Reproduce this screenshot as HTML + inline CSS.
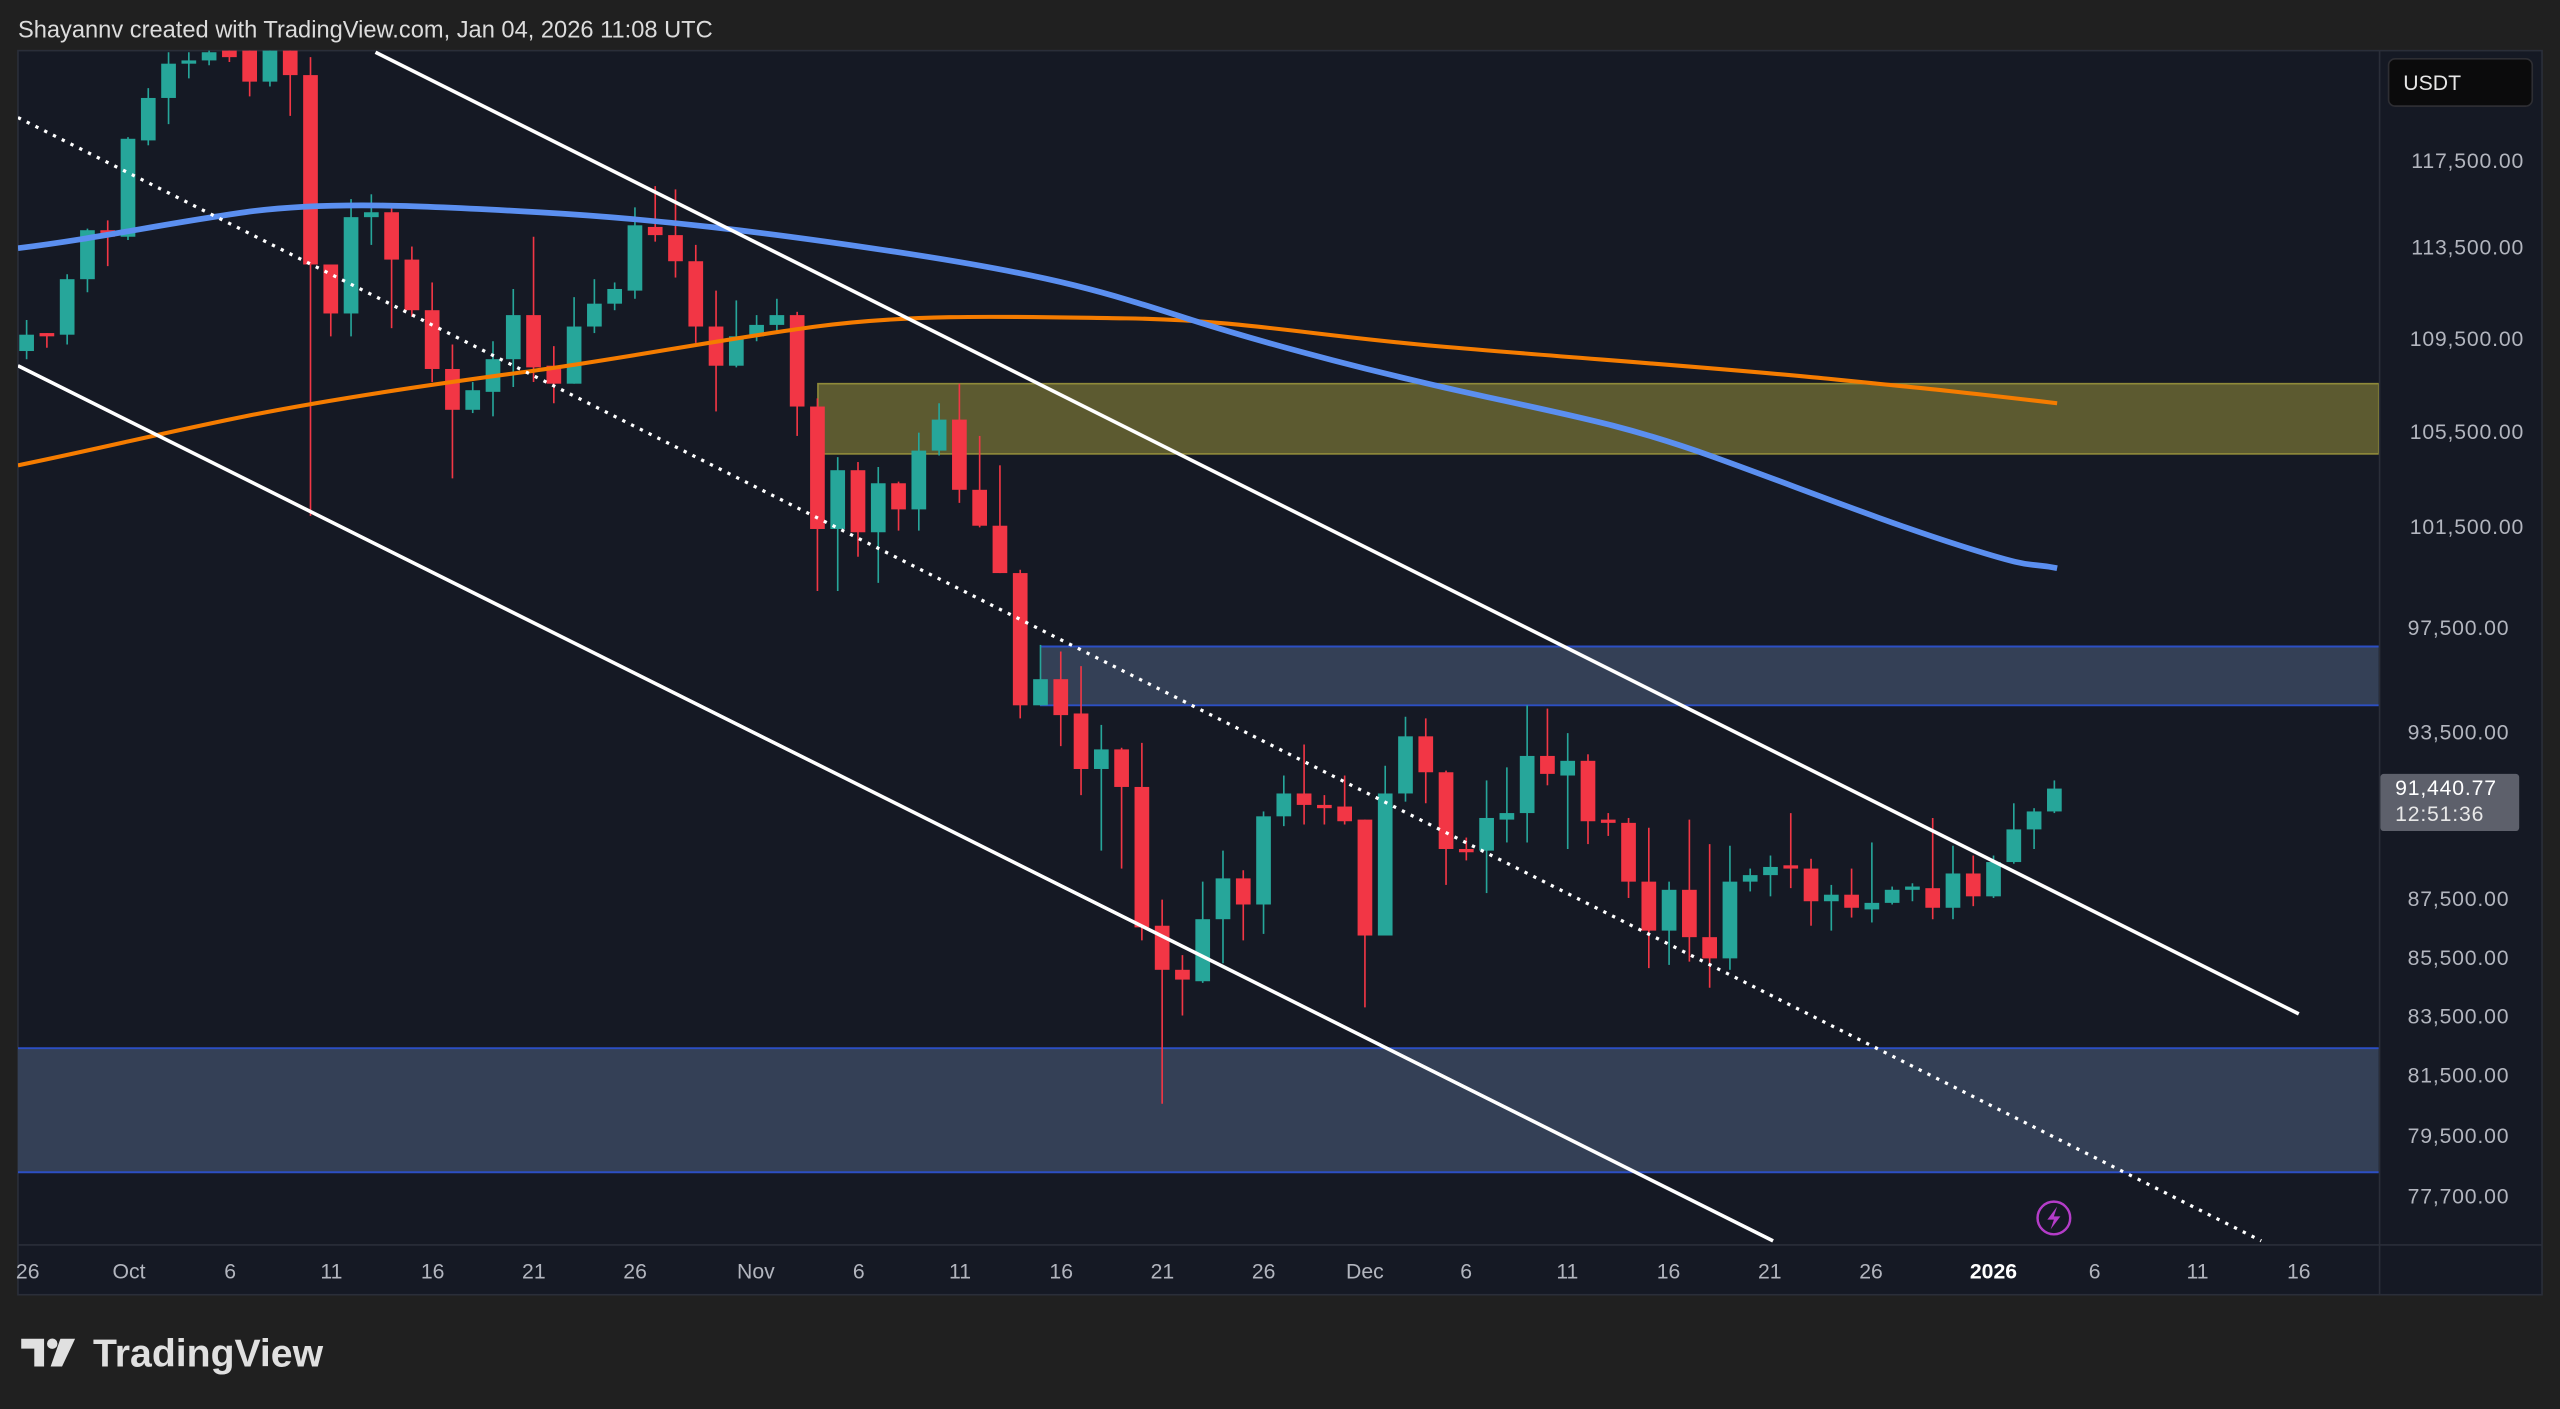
<!DOCTYPE html>
<html><head><meta charset="utf-8">
<style>
html,body{margin:0;padding:0;background:#202020;width:2560px;height:1409px;overflow:hidden}
svg{display:block}
text{font-family:"Liberation Sans",sans-serif}
</style></head>
<body>
<svg id="s" width="2560" height="1409" viewBox="0 0 1568 863" preserveAspectRatio="none" xmlns="http://www.w3.org/2000/svg">
<rect x="0" y="0" width="1568" height="863" fill="#202020"/>
<text x="11" y="23" font-size="14.5" fill="#dcdcdc">Shayannv created with TradingView.com, Jan 04, 2026 11:08 UTC</text>
<rect x="11" y="31" width="1546" height="762" fill="#151924" stroke="#2a2e39" stroke-width="1"/>
<line x1="1457.5" y1="31" x2="1457.5" y2="793" stroke="#2a2e39"/>
<line x1="11" y1="762.5" x2="1557" y2="762.5" stroke="#2a2e39"/>
<defs><clipPath id="c"><rect x="11" y="31" width="1446" height="731"/></clipPath></defs>
<g clip-path="url(#c)">
<rect x="501" y="235" width="956" height="43" fill="#5c5a30" stroke="#8f8a3a" stroke-width="1"/>
<rect x="637" y="396" width="820" height="36" fill="#344056"/>
<line x1="637" y1="396" x2="1457" y2="396" stroke="#2c4fc4" stroke-width="1.2"/>
<line x1="637" y1="432" x2="1457" y2="432" stroke="#2c4fc4" stroke-width="1.2"/>
<rect x="11" y="642" width="1446" height="76" fill="#344056"/>
<line x1="11" y1="642" x2="1457" y2="642" stroke="#2c4fc4" stroke-width="1.2"/>
<line x1="11" y1="718" x2="1457" y2="718" stroke="#2c4fc4" stroke-width="1.2"/>
<g id="candles"></g>
<path d="M11,285 C60,275 100,265 150,255 S260,236 320,228 S440,208 500,200 S620,194 690,195 S800,205 880,212 S1050,225 1120,232 S1200,240 1260,247" fill="none" stroke="#f57c00" stroke-width="2.5"/>
<path d="M11,152 C60,146 100,137 150,130 S260,126 330,130 S470,142 560,156 S680,180 730,196 S850,230 910,243 S1000,262 1050,280 S1150,318 1200,334 S1240,344 1260,348" fill="none" stroke="#5b8ff0" stroke-width="3.5"/>
<line x1="230" y1="32" x2="1408" y2="621" stroke="#ffffff" stroke-width="2.2"/>
<line x1="11" y1="224" x2="1086" y2="760" stroke="#ffffff" stroke-width="2.2"/>
<line x1="11" y1="72" x2="1385" y2="760" stroke="#ffffff" stroke-width="2" stroke-dasharray="2,4"/>
</g>
<circle cx="1258" cy="746" r="10" fill="none" stroke="#b43cc8" stroke-width="1.5"/>
<path d="M1260,739 L1254,747 L1258,747 L1256,753 L1262,745 L1258,745 Z" fill="#b43cc8"/>
<rect x="1463" y="36" width="88" height="29" rx="4" fill="#0b0b0c" stroke="#2e2e33"/>
<text x="1472" y="55" font-size="13" fill="#e6e6e6">USDT</text>
<g font-size="13" fill="#b2b5be" text-anchor="end" letter-spacing="0.5">
<text x="1546" y="103">117,500.00</text>
<text x="1546" y="156">113,500.00</text>
<text x="1546" y="212">109,500.00</text>
<text x="1546" y="269">105,500.00</text>
<text x="1546" y="327">101,500.00</text>
<text x="1537" y="389">97,500.00</text>
<text x="1537" y="453">93,500.00</text>
<text x="1537" y="555">87,500.00</text>
<text x="1537" y="591">85,500.00</text>
<text x="1537" y="627">83,500.00</text>
<text x="1537" y="663">81,500.00</text>
<text x="1537" y="700">79,500.00</text>
<text x="1537" y="737">77,700.00</text>
</g>
<rect x="1458" y="474" width="85" height="35" rx="2" fill="#5d606b"/>
<text x="1467" y="487" font-size="13" fill="#ffffff" letter-spacing="0.5">91,440.77</text>
<text x="1467" y="503" font-size="13" fill="#e8e8e8" letter-spacing="0.5">12:51:36</text>
<g font-size="13" fill="#b2b5be" text-anchor="middle">
<text x="17" y="783">26</text><text x="79" y="783">Oct</text><text x="141" y="783">6</text>
<text x="203" y="783">11</text><text x="265" y="783">16</text><text x="327" y="783">21</text>
<text x="389" y="783">26</text><text x="463" y="783">Nov</text><text x="526" y="783">6</text>
<text x="588" y="783">11</text><text x="650" y="783">16</text><text x="712" y="783">21</text>
<text x="774" y="783">26</text><text x="836" y="783">Dec</text><text x="898" y="783">6</text>
<text x="960" y="783">11</text><text x="1022" y="783">16</text><text x="1084" y="783">21</text>
<text x="1146" y="783">26</text><text x="1221" y="783" fill="#ffffff" font-weight="bold">2026</text>
<text x="1283" y="783">6</text><text x="1346" y="783">11</text><text x="1408" y="783">16</text>
</g>
<g fill="#e0e0e0">
<path d="M13,820 H27 V837 H21 V826 H13 Z"/>
<circle cx="32" cy="823" r="3.2"/>
<path d="M37,820 H46 L38,837 H31 Z"/>
</g>
<text x="57" y="837" font-size="24" font-weight="bold" fill="#e0e0e0">TradingView</text>
</svg>
<script>
var D=[
['g',205,215,196,220],['r',204,206,204,213],['g',171,205,168,211],['g',141,171,140,179],['r',141,145,135,163],
['g',85,145,84,147],['g',60,86,54,89],['g',39,60,32,76],['g',37,39,32,48],['g',32,37,28,40],
['r',28,35,25,38],['r',28,50,25,59],['g',28,50,25,53],['r',28,46,25,71],['r',46,162,35,316],
['r',162,192,162,206],['g',133,192,122,206],['g',130,133,119,150],['r',130,159,126,201],['r',159,190,151,194],
['r',190,226,173,234],['r',226,251,211,293],['g',239,251,234,253],['g',220,240,209,255],['g',193,220,177,237],
['r',193,225,145,234],['r',224,235,212,247],['g',200,235,182,235],['g',186,200,171,204],['g',177,186,173,190],
['g',138,178,127,183],['r',139,144,114,148],['r',144,160,116,170],['r',160,200,150,210],['r',200,224,178,252],
['g',206,224,184,225],['g',199,206,193,209],['g',193,199,183,204],['r',193,249,191,267],['r',249,324,244,362],
['g',288,324,280,362],['r',288,326,283,341],['g',296,326,286,357],['r',296,312,295,325],['g',276,312,265,325],
['g',257,276,247,279],['r',257,300,235,308],['r',300,322,267,323],['r',322,351,285,351],['r',351,432,349,440],
['g',416,432,395,432],['r',416,438,399,457],['r',437,471,408,487],['g',459,471,444,521],['r',459,482,458,532],
['r',482,568,455,576],['r',567,594,551,676],['r',594,600,585,622],['g',563,601,540,602],['g',538,563,521,590],
['r',538,554,533,576],['g',500,554,497,572],['g',486,500,475,506],['r',486,493,456,505],['r',493,495,487,505],
['r',494,503,475,505],['r',502,573,502,617],['g',486,573,469,573],['g',451,486,439,491],['r',451,473,440,492],
['r',473,520,472,542],['r',520,522,513,527],['g',501,521,478,547],['g',498,502,470,516],['g',463,498,432,516],
['r',463,474,434,481],['g',466,475,449,520],['r',466,503,462,517],['r',502,504,498,512],['r',504,540,501,550],
['r',540,570,507,593],['g',545,570,540,591],['r',545,574,502,589],['r',574,587,517,605],['g',540,587,518,594],
['g',536,540,532,546],['g',531,536,524,549],['r',530,532,498,544],['r',532,552,526,567],['g',548,552,542,570],
['r',548,556,532,562],['g',553,557,516,565],['g',545,553,543,554],['g',543,545,541,552],['r',544,556,501,563],
['g',535,556,518,563],['r',535,549,524,555],['g',528,549,524,550],['g',508,528,492,529],['g',497,508,495,520],
['g',483,497,478,498]];
var g=document.getElementById('candles'),h='';
for(var i=0;i<D.length;i++){var d=D[i],x=16.3+12.42*i,c=d[0]=='g'?'#26a69a':'#f23645';
h+='<line x1="'+x+'" y1="'+d[3]+'" x2="'+x+'" y2="'+d[4]+'" stroke="'+c+'" stroke-width="1"/>';
var bh=Math.max(1.5,d[2]-d[1]);
h+='<rect x="'+(x-4.5)+'" y="'+d[1]+'" width="9" height="'+bh+'" fill="'+c+'"/>';}
g.innerHTML=h;
</script>
</body></html>
